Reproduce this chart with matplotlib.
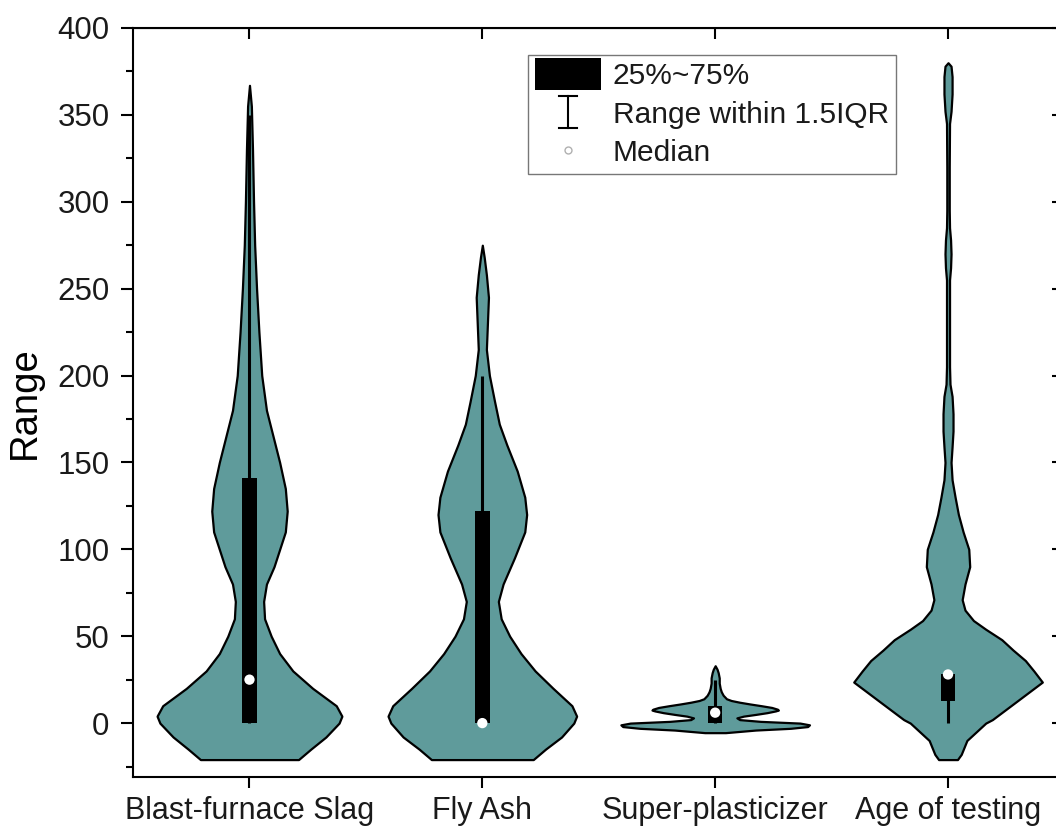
import numpy as np
import matplotlib
matplotlib.use("Agg")
import matplotlib.pyplot as plt
from matplotlib.legend_handler import HandlerBase
from matplotlib.patches import Rectangle
from matplotlib.lines import Line2D
from matplotlib.ticker import MultipleLocator

plt.rcParams['font.family'] = ['Liberation Sans', 'DejaVu Sans']
plt.rcParams['text.color'] = '#1a1a1a'
plt.rcParams['xtick.labelcolor'] = '#1a1a1a'
plt.rcParams['ytick.labelcolor'] = '#1a1a1a'

categories = ["Blast-furnace Slag", "Fly Ash", "Super-plasticizer", "Age of testing"]

# density profiles: value -> relative half width (1.0 = widest point)
slag_y = [-21, -15, -8, 0, 4, 10, 20, 30, 40, 50, 60, 70, 80, 90, 100, 110, 122, 135, 150,
          165, 180, 200, 225, 250, 275, 300, 330, 355, 367]
slag_d = [0.52, 0.65, 0.81, 0.95, 0.98, 0.92, 0.67, 0.46, 0.32, 0.23, 0.16, 0.15, 0.18, 0.26,
          0.32, 0.38, 0.40, 0.38, 0.32, 0.25, 0.18, 0.13, 0.10, 0.075, 0.055, 0.043, 0.032, 0.02, 0.0]

fly_y = [-21, -15, -8, 0, 4, 10, 20, 30, 40, 50, 60, 70, 80, 95, 110, 120, 130, 145, 160,
         172, 185, 200, 215, 230, 245, 258, 268, 275]
fly_d = [0.54, 0.67, 0.84, 0.97, 1.0, 0.95, 0.75, 0.56, 0.41, 0.29, 0.20, 0.17, 0.22, 0.34,
         0.45, 0.47, 0.45, 0.37, 0.26, 0.18, 0.13, 0.075, 0.043, 0.054, 0.065, 0.043, 0.02, 0.0]

sp_y = [-5.5, -4, -3, -2, -1, 0, 1, 2, 3, 4, 5, 6, 7, 7.5, 8, 9, 10, 11, 12, 13, 14, 16, 18,
        20, 23, 26, 29, 31, 33]
sp_d = [0.11, 0.43, 0.80, 0.98, 1.0, 0.90, 0.48, 0.26, 0.23, 0.30, 0.43, 0.55, 0.64, 0.67,
        0.66, 0.60, 0.49, 0.37, 0.26, 0.17, 0.12, 0.085, 0.065, 0.053, 0.043, 0.043, 0.032,
        0.02, 0.0]

age_y = [-21, -18, -10, 0, 2, 13, 23.6, 30, 36, 42, 48, 54, 59, 65, 71, 80, 90, 100, 110, 120,
         130, 140, 150, 159, 168, 178, 188, 195, 205, 230, 255, 262, 270, 278, 285, 295, 320,
         345, 352, 362, 372, 378, 380]
age_d = [0.10, 0.14, 0.20, 0.40, 0.47, 0.74, 1.0, 0.91, 0.82, 0.69, 0.57, 0.40, 0.27, 0.18,
         0.15, 0.18, 0.23, 0.22, 0.16, 0.11, 0.075, 0.043, 0.032, 0.043, 0.053, 0.053, 0.043,
         0.021, 0.016, 0.016, 0.016, 0.027, 0.032, 0.027, 0.016, 0.013, 0.013, 0.016, 0.032,
         0.043, 0.043, 0.032, 0.0]

profiles_y = [slag_y, fly_y, sp_y, age_y]
profiles_d = [slag_d, fly_d, sp_d, age_d]

# box statistics
q1 = [0, 0, 0, 13]
q3 = [141, 122, 10, 28]
medians = [25, 0, 6, 28]
whisk_lo = [0, 0, 0, 0]
whisk_hi = [350, 200, 25, 28]

violin_color = "#5f9b9b"
max_half = 0.405

fig = plt.figure(figsize=(10.56, 8.35), dpi=100)
ax = fig.add_axes([0.126, 0.0695, 0.882, 0.897])

for i in range(len(categories)):
    pos = i + 1
    y = np.array(profiles_y[i])
    w = np.array(profiles_d[i]) * max_half
    ax.fill_betweenx(y, pos - w, pos + w, facecolor=violin_color, edgecolor="black",
                     linewidth=1.6, zorder=2)
    ax.vlines(pos, whisk_lo[i], whisk_hi[i], color="black", linewidth=2.2, zorder=3)
    ax.bar(pos, q3[i] - q1[i], bottom=q1[i], width=0.062, color="black", zorder=4)
    ax.scatter(pos, medians[i], s=55, color="white", edgecolors="none", zorder=5)

ax.set_xlim(0.5, 4.5)
ax.set_ylim(-31, 400)
ax.set_xticks(range(1, len(categories) + 1))
ax.set_xticklabels(categories)
ax.yaxis.set_major_locator(MultipleLocator(50))
ax.yaxis.set_minor_locator(MultipleLocator(25))
ax.tick_params(axis="y", which="major", direction="out", length=9, width=1.5,
               labelsize=22.5, pad=8)
ax.tick_params(axis="y", which="minor", direction="out", length=5, width=1.5)
ax.tick_params(axis="x", direction="out", length=8, width=1.5, labelsize=22, pad=6)
ax.set_ylabel("Range", fontsize=27.5, labelpad=10)
for sp in ax.spines.values():
    sp.set_linewidth(1.5)

# mirrored ticks pointing inward on the right and top
right = ax.secondary_yaxis("right")
right.yaxis.set_major_locator(MultipleLocator(50))
right.yaxis.set_minor_locator(MultipleLocator(25))
right.tick_params(which="major", direction="in", length=9, width=1.5, labelright=False)
right.tick_params(which="minor", direction="in", length=5, width=1.5)
top = ax.secondary_xaxis("top")
top.set_xticks(range(1, len(categories) + 1))
top.tick_params(direction="in", length=8, width=1.5, labeltop=False)


class BoxHandler(HandlerBase):
    def create_artists(self, legend, orig, xd, yd, width, height, fontsize, trans):
        hh = fontsize * 1.1
        r = Rectangle((-xd, -yd + height / 2 - hh / 2), width, hh,
                      facecolor="black", edgecolor="none", transform=trans)
        return [r]


class BeamHandler(HandlerBase):
    def create_artists(self, legend, orig, xd, yd, width, height, fontsize, trans):
        cx = -xd + width / 2
        cy = -yd + height / 2
        hh = fontsize * 0.53
        cw = fontsize * 0.3
        lines = [Line2D([cx, cx], [cy - hh, cy + hh], color="black", lw=1.5, transform=trans),
                 Line2D([cx - cw, cx + cw], [cy + hh, cy + hh], color="black", lw=1.5,
                        transform=trans),
                 Line2D([cx - cw, cx + cw], [cy - hh, cy - hh], color="black", lw=1.5,
                        transform=trans)]
        return lines


class DotHandler(HandlerBase):
    def create_artists(self, legend, orig, xd, yd, width, height, fontsize, trans):
        m = Line2D([-xd + width / 2], [-yd + height / 2], marker="o", markersize=5,
                   markerfacecolor="white", markeredgecolor="#b0b0b0", linestyle="none",
                   transform=trans)
        return [m]


h_box = Rectangle((0, 0), 1, 1)
h_beam = Line2D([], [])
h_dot = Line2D([], [], marker="o")
leg = ax.legend([h_box, h_beam, h_dot], ["25%~75%", "Range within 1.5IQR", "Median"],
                handler_map={h_box: BoxHandler(), h_beam: BeamHandler(), h_dot: DotHandler()},
                loc="upper left", bbox_to_anchor=(528 / 1056, 1 - 55 / 835),
                bbox_transform=fig.transFigure, fontsize=21.5, frameon=True, fancybox=False,
                borderpad=0.25, handlelength=2.18, handletextpad=0.4, labelspacing=0.34,
                borderaxespad=0)
leg.get_frame().set_edgecolor("#555555")
leg.get_frame().set_linewidth(1.0)

fig.savefig("out.png", dpi=100)
